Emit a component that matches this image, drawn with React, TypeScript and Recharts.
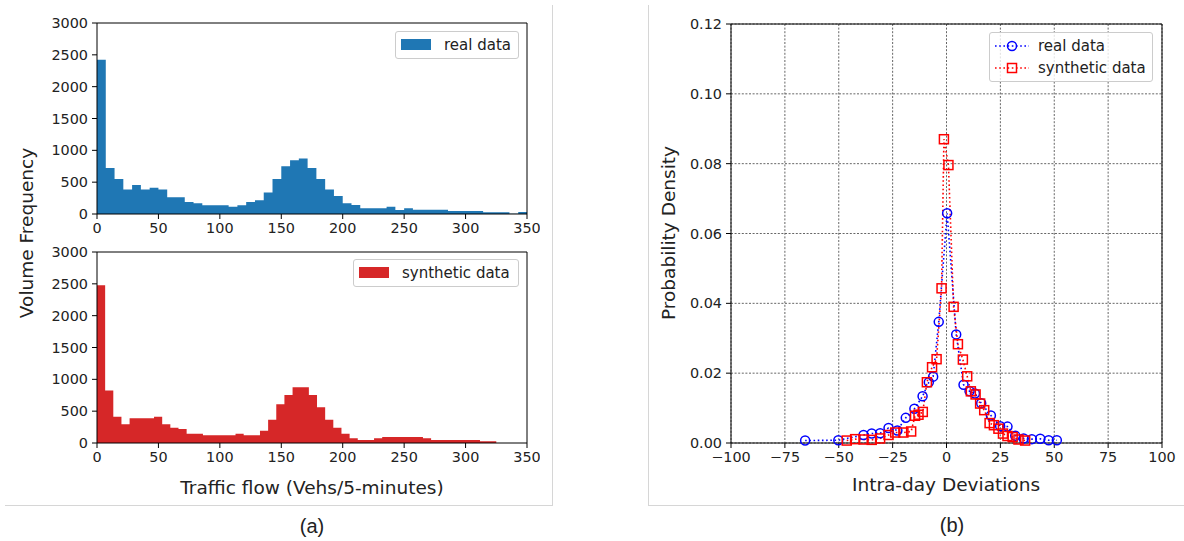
import React from "react";
import { AreaChart, Area, LineChart, Line, XAxis, YAxis, CartesianGrid, ReferenceLine } from "recharts";

// (a) histogram counts, 49 bins each
const realCounts = [
  2423, 724, 551, 383, 456, 383, 414, 383, 262, 262, 189, 168, 136, 136, 136, 115, 136, 189, 215, 336,
  551, 750, 845, 871, 724, 551, 383, 283, 168, 142, 89, 89, 89, 115, 63, 89, 68, 68, 68, 68,
  47, 47, 47, 47, 26, 26, 26, 5, 31,
];
const synthCounts = [
  2476, 823, 414, 294, 388, 388, 388, 414, 294, 241, 220, 147, 147, 121, 121, 121, 121, 147, 121, 121,
  194, 367, 608, 755, 876, 876, 755, 561, 367, 241, 147, 73, 47, 47, 73, 94, 94, 94, 94, 94,
  73, 47, 47, 47, 47, 47, 47, 26, 26,
];
const REAL_BIN = 350 / 49;
const SYNTH_BIN = 325 / 49;
const flowTicks = [0, 50, 100, 150, 200, 250, 300, 350];
const countTicks = [0, 500, 1000, 1500, 2000, 2500, 3000];

// (b) intra-day deviation densities
const realDevX = [
  -65.6, -50.2, -38.5, -34.7, -30.8, -26.9, -22.8, -18.9, -14.9, -11.1, -8.2, -6.2, -3.6, 0.3,
  4.5, 7.9, 10.7, 13.2, 16.1, 20.6, 24.9, 28.3, 31.9, 35.8, 39.6, 43.5, 47.4, 51.2,
];
const realDensity = [
  0.0007, 0.0008, 0.0023, 0.0027, 0.0028, 0.0043, 0.0036, 0.0072, 0.0098, 0.0134, 0.0174, 0.019, 0.0347, 0.0658,
  0.0311, 0.0167, 0.0148, 0.0142, 0.0114, 0.0079, 0.0048, 0.0047, 0.0021, 0.0013, 0.0011, 0.0012, 0.0008, 0.0008,
];
const synthDevX = [
  -46.3, -42.4, -38.5, -34.7, -30.8, -26.9, -23.8, -20.0, -16.4, -14.6, -13.0, -11.0, -9.1, -6.7, -4.6, -2.3, -1.2,
  0.9, 3.3, 5.3, 7.6, 9.6, 11.3, 13.5, 15.6, 17.5, 20.0, 22.0, 24.1, 26.2, 28.3, 30.7, 33.4, 36.5,
];
const synthDensity = [
  0.0007, 0.0011, 0.001, 0.0009, 0.0013, 0.0023, 0.003, 0.003, 0.0033, 0.0078, 0.0081, 0.0089, 0.0174, 0.0217, 0.024, 0.0443, 0.087,
  0.0796, 0.039, 0.0283, 0.0239, 0.0191, 0.0148, 0.0139, 0.0113, 0.0094, 0.0057, 0.0051, 0.0041, 0.0027, 0.002, 0.0017, 0.001, 0.0007,
];
const devTicks = [-100, -75, -50, -25, 0, 25, 50, 75, 100];
const densityTicks = [0, 0.02, 0.04, 0.06, 0.08, 0.1, 0.12];

const BLUE = "#1f77b4";
const RED = "#d62728";
const FONT = "DejaVu Sans";
const tickStyle = { fill: "#222", fontSize: 14.4, fontFamily: FONT };

// bin left edges + closing right edge, drawn as a stepped area
const toSteps = (counts: number[], width: number) => [
  ...counts.map((count, i) => ({ flow: i * width, count })),
  { flow: counts.length * width, count: counts[counts.length - 1] },
];
const toPoints = (xs: number[], ys: number[]) => xs.map((x, i) => ({ x, y: ys[i] }));
const minus = (v: number) => String(v).replace("-", "\u2212");

function Histogram({ counts, binWidth, color }: { counts: number[]; binWidth: number; color: string }) {
  return (
    <AreaChart width={540} height={244} data={toSteps(counts, binWidth)} margin={{ top: 23, right: 13, bottom: 0, left: 0 }}>
      <XAxis
        dataKey="flow"
        type="number"
        domain={[0, 350]}
        ticks={flowTicks}
        interval={0}
        allowDataOverflow
        height={30}
        stroke="#000"
        tickSize={5}
        tickMargin={4}
        tick={tickStyle}
      />
      <YAxis
        type="number"
        domain={[0, 3000]}
        ticks={countTicks}
        interval={0}
        width={97}
        stroke="#000"
        tickSize={5}
        tickMargin={4}
        tick={tickStyle}
      />
      <Area
        dataKey="count"
        type="stepAfter"
        fill={color}
        fillOpacity={1}
        stroke="none"
        dot={false}
        activeDot={false}
        isAnimationActive={false}
      />
      <ReferenceLine y={3000} stroke="#000" />
      <ReferenceLine x={350} stroke="#000" />
    </AreaChart>
  );
}

function PatchLegend({ left, top, width, color, label }: { left: number; top: number; width: number; color: string; label: string }) {
  return (
    <div
      style={{
        position: "absolute", left, top, width, height: 28, boxSizing: "border-box",
        border: "1px solid #ccc", borderRadius: 3, background: "rgba(255,255,255,0.8)",
      }}
    >
      <div style={{ position: "absolute", left: 5, top: 7, width: 30, height: 11, background: color }} />
      <div style={{ position: "absolute", left: 48, top: 2, lineHeight: "22px", fontSize: 15, color: "#222", whiteSpace: "nowrap" }}>
        {label}
      </div>
    </div>
  );
}

const circleDot = (props: any) => (
  <circle key={`c-${props.index}`} cx={props.cx} cy={props.cy} r={4.5} fill="none" stroke="#0000ff" strokeWidth={1.5} />
);
const squareDot = (props: any) => (
  <rect key={`s-${props.index}`} x={props.cx - 4.5} y={props.cy - 4.5} width={9} height={9} fill="none" stroke="#ff0000" strokeWidth={1.5} />
);

function LineSample({ color, square }: { color: string; square?: boolean }) {
  return (
    <svg width={36} height={14} style={{ position: "absolute", left: 4, top: -7 }}>
      <line x1={1} y1={7} x2={35} y2={7} stroke={color} strokeWidth={1.6} strokeDasharray="1.6 2.6" />
      {square ? (
        <rect x={13.5} y={2.5} width={9} height={9} fill="none" stroke={color} strokeWidth={1.5} />
      ) : (
        <circle cx={18} cy={7} r={4.5} fill="none" stroke={color} strokeWidth={1.5} />
      )}
    </svg>
  );
}

export default function App() {
  const label = { position: "absolute" as const, fontSize: 18.5, color: "#222", whiteSpace: "nowrap" as const };
  return (
    <div style={{ position: "absolute", left: 0, top: 0, width: 1184, height: 541, background: "#fff", fontFamily: FONT, overflow: "hidden" }}>
      {/* panel frames */}
      <div style={{ position: "absolute", left: 5, top: 5, width: 547, height: 500, borderRight: "1px solid #d6d6d6", borderBottom: "1px solid #d6d6d6" }} />
      <div style={{ position: "absolute", left: 648, top: 5, width: 536, height: 500, borderLeft: "1px solid #d6d6d6", borderBottom: "1px solid #d6d6d6" }} />

      {/* (a) */}
      <div style={{ position: "absolute", left: 0, top: 0 }}>
        <Histogram counts={realCounts} binWidth={REAL_BIN} color={BLUE} />
      </div>
      <div style={{ position: "absolute", left: 0, top: 229 }}>
        <Histogram counts={synthCounts} binWidth={SYNTH_BIN} color={RED} />
      </div>
      <PatchLegend left={395} top={31} width={124} color={BLUE} label="real data" />
      <PatchLegend left={353} top={259} width={166} color={RED} label="synthetic data" />
      <div style={{ ...label, left: 26, top: 233, transform: "translate(-50%,-50%) rotate(-90deg)" }}>Volume Frequency</div>
      <div style={{ ...label, left: 312, top: 487, transform: "translate(-50%,-50%)" }}>Traffic flow (Vehs/5-minutes)</div>
      <div style={{ position: "absolute", left: 312, top: 526, transform: "translate(-50%,-50%)", fontFamily: "Liberation Sans", fontSize: 20, color: "#222" }}>(a)</div>

      {/* (b) */}
      <div style={{ position: "absolute", left: 640, top: 0 }}>
        <LineChart width={540} height={473} margin={{ top: 24, right: 18, bottom: 0, left: 0 }}>
          <CartesianGrid stroke="#555" strokeDasharray="2 1.6" strokeWidth={0.9} />
          <XAxis
            dataKey="x"
            type="number"
            domain={[-100, 100]}
            ticks={devTicks}
            interval={0}
            allowDataOverflow
            tickFormatter={minus}
            height={30}
            stroke="#000"
            tickSize={5}
            tickMargin={4}
            tick={tickStyle}
          />
          <YAxis
            type="number"
            domain={[0, 0.12]}
            ticks={densityTicks}
            interval={0}
            tickFormatter={(v: number) => v.toFixed(2)}
            width={91}
            stroke="#000"
            tickSize={5}
            tickMargin={4}
            tick={tickStyle}
          />
          <ReferenceLine y={0.12} stroke="#000" />
          <ReferenceLine x={100} stroke="#000" />
          <Line
            data={toPoints(realDevX, realDensity)}
            dataKey="y"
            type="linear"
            stroke="#0000ff"
            strokeWidth={1.6}
            strokeDasharray="1.6 2.6"
            dot={circleDot}
            activeDot={false}
            isAnimationActive={false}
          />
          <Line
            data={toPoints(synthDevX, synthDensity)}
            dataKey="y"
            type="linear"
            stroke="#ff0000"
            strokeWidth={1.6}
            strokeDasharray="1.6 2.6"
            dot={squareDot}
            activeDot={false}
            isAnimationActive={false}
          />
        </LineChart>
      </div>
      <div
        style={{
          position: "absolute", left: 989, top: 32, width: 164, height: 50, boxSizing: "border-box",
          border: "1px solid #ccc", borderRadius: 3, background: "rgba(255,255,255,0.8)", fontSize: 15, color: "#222",
        }}
      >
        <div style={{ position: "absolute", left: 0, top: 13 }}>
          <LineSample color="#0000ff" />
        </div>
        <div style={{ position: "absolute", left: 48, top: 2, lineHeight: "22px", whiteSpace: "nowrap" }}>real data</div>
        <div style={{ position: "absolute", left: 0, top: 35 }}>
          <LineSample color="#ff0000" square />
        </div>
        <div style={{ position: "absolute", left: 48, top: 24, lineHeight: "22px", whiteSpace: "nowrap" }}>synthetic data</div>
      </div>
      <div style={{ ...label, left: 668, top: 233, transform: "translate(-50%,-50%) rotate(-90deg)" }}>Probability Density</div>
      <div style={{ ...label, left: 946, top: 484, transform: "translate(-50%,-50%)" }}>Intra-day Deviations</div>
      <div style={{ position: "absolute", left: 952, top: 525, transform: "translate(-50%,-50%)", fontFamily: "Liberation Sans", fontSize: 20, color: "#222" }}>(b)</div>
    </div>
  );
}
